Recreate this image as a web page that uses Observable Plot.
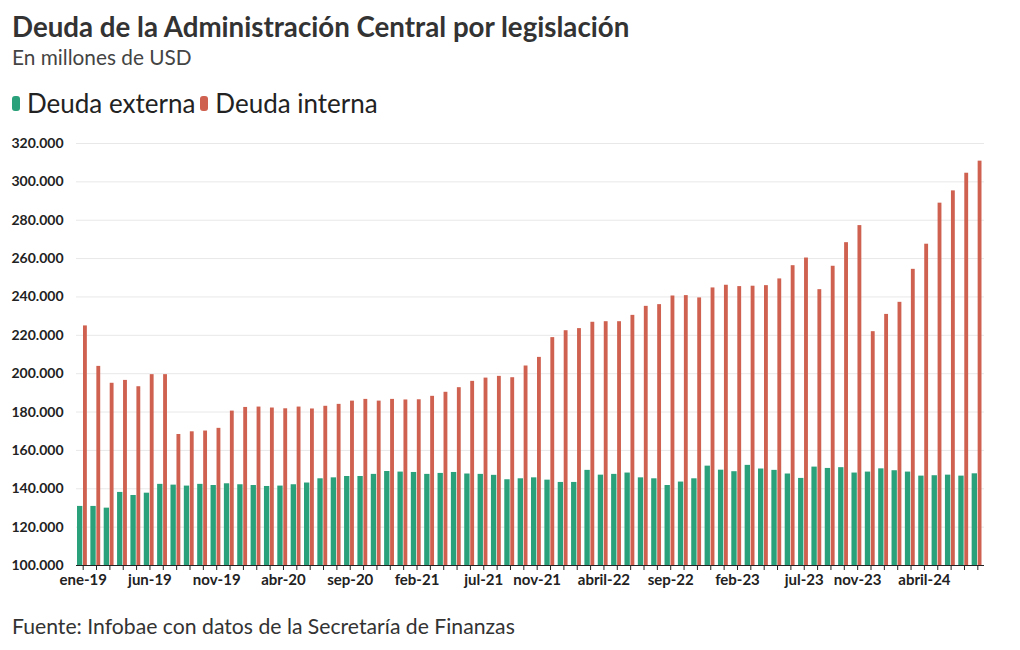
<!DOCTYPE html>
<html>
<head>
<meta charset="utf-8">
<script src="https://cdn.jsdelivr.net/npm/d3@7"></script>
<script src="https://cdn.jsdelivr.net/npm/@observablehq/plot@0.6"></script>
<style>
  html, body { margin: 0; padding: 0; background: #fff; }
  body { width: 1020px; height: 650px; position: relative; font-family: "Lato", "Open Sans", sans-serif; overflow: hidden; }
  #title { position: absolute; left: 12px; top: 10px; font-size: 27.7px; font-weight: 700; color: #333; white-space: nowrap; }
  #subtitle { position: absolute; left: 12px; top: 44px; font-size: 20.8px; color: #444; white-space: nowrap; }
  #legend { position: absolute; left: 12px; top: 87px; font-size: 26px; color: #222; white-space: nowrap; display: flex; align-items: center; }
  .sw { display: inline-block; width: 8px; height: 15px; border-radius: 3px; margin-right: 7px; }
  .item { display: flex; align-items: center; margin-right: 5px; }
  #chart { position: absolute; left: 0; top: 130px; }
  #source { position: absolute; left: 12px; top: 613px; font-size: 21.2px; color: #333; white-space: nowrap; }
  #chart svg g[aria-label="x-axis tick label"] { font-size: 15px; }
</style>
</head>
<body>
<div id="title">Deuda de la Administración Central por legislación</div>
<div id="subtitle">En millones de USD</div>
<div id="legend"></div>
<div id="chart"></div>
<div id="source">Fuente: Infobae con datos de la Secretaría de Finanzas</div>
<script>
// Months (categories)
const months = [
  "ene-19","feb-19","mar-19","abr-19","may-19","jun-19","jul-19","ago-19","sep-19","oct-19","nov-19","dic-19",
  "ene-20","feb-20","mar-20","abr-20","may-20","jun-20","jul-20","ago-20","sep-20","oct-20","nov-20","dic-20",
  "ene-21","feb-21","mar-21","abr-21","may-21","jun-21","jul-21","ago-21","sep-21","oct-21","nov-21","dic-21",
  "ene-22","feb-22","mar-22","abril-22","may-22","jun-22","jul-22","ago-22","sep-22","oct-22","nov-22","dic-22",
  "ene-23","feb-23","mar-23","abr-23","may-23","jun-23","jul-23","ago-23","sep-23","oct-23","nov-23","dic-23",
  "ene-24","feb-24","mar-24","abril-24","may-24","jun-24","jul-24","ago-24"
];
// Labels shown on x axis
const labeledMonths = ["ene-19","jun-19","nov-19","abr-20","sep-20","feb-21","jul-21","nov-21","abril-22","sep-22","feb-23","jul-23","nov-23","abril-24"];
// Deuda externa (millones USD)
const deudaExterna = [
  130800,130800,129900,138100,136500,137700,142300,141900,141400,142300,
  141700,142600,142100,141700,141200,141400,142100,143000,145200,145700,
  146400,146400,147500,149000,148700,148500,147500,148000,148500,147700,
  147500,147000,144700,145200,145700,144500,143300,143300,149600,147100,
  147500,148200,145700,145200,141700,143500,145200,151800,149700,148900,
  152200,150300,149600,147700,145400,151300,150600,151000,148200,148700,
  150400,149400,148700,146600,146800,147100,146600,147800
];
// Deuda interna (millones USD)
const deudaInterna = [
  224900,203800,195000,196500,193200,199500,199500,168300,169700,170100,
  171500,180500,182400,182600,182100,181700,182600,181600,183000,184000,
  185700,186600,185700,186600,186300,186400,188200,190300,192700,196000,
  197700,198600,197900,204000,208500,218800,222400,223500,226800,227100,
  227100,230400,235100,236000,240500,240700,239500,244700,246100,245400,
  245600,245900,249400,256300,260300,243800,256000,268300,277200,221900,
  230900,237200,254400,267500,288900,295300,304500,310800
];
const series = ["Deuda externa", "Deuda interna"];
const colors = ["#2aa17a", "#cf6150"];
const yTicks = [100000,120000,140000,160000,180000,200000,220000,240000,260000,280000,300000,320000];

const rows = months.map((m, i) => ({month: m, externa: deudaExterna[i], interna: deudaInterna[i]}));
const fmt = d => d3.format(",")(d).replace(/,/g, ".");

// legend
const legend = document.getElementById("legend");
series.forEach((s, i) => {
  const it = document.createElement("span");
  it.className = "item";
  it.innerHTML = `<span class="sw" style="background:${colors[i]}"></span>${s}`;
  legend.appendChild(it);
});

const chart = Plot.plot({
  width: 1020,
  height: 465,
  marginLeft: 76,
  marginRight: 36,
  marginTop: 13,
  marginBottom: 30,
  style: {fontFamily: "Lato, 'Open Sans', sans-serif", fontSize: "14px", fontWeight: "bold", color: "#222", background: "#fff"},
  x: {type: "band", domain: months, padding: 0, round: false},
  y: {domain: [100000, 320000]},
  marks: [
    Plot.gridY(yTicks.slice(1), {stroke: "#e8e8e8", strokeOpacity: 1}),
    Plot.barY(rows, {x: "month", y1: 100000, y2: "externa", fill: colors[0], insetLeft: 1, insetRight: 7}),
    Plot.barY(rows, {x: "month", y1: 100000, y2: "interna", fill: colors[1], insetLeft: 7, insetRight: 2.5}),
    Plot.ruleY([100000], {stroke: "#222", strokeWidth: 1}),
    Plot.axisY(yTicks, {tickSize: 0, tickPadding: 13, tickFormat: fmt, label: null}),
    Plot.axisX({tickSize: 5, tickPadding: 4, stroke: "#222", label: null,
      tickFormat: d => labeledMonths.includes(d) ? d : ""})
  ]
});
document.getElementById("chart").appendChild(chart);
</script>
</body>
</html>
